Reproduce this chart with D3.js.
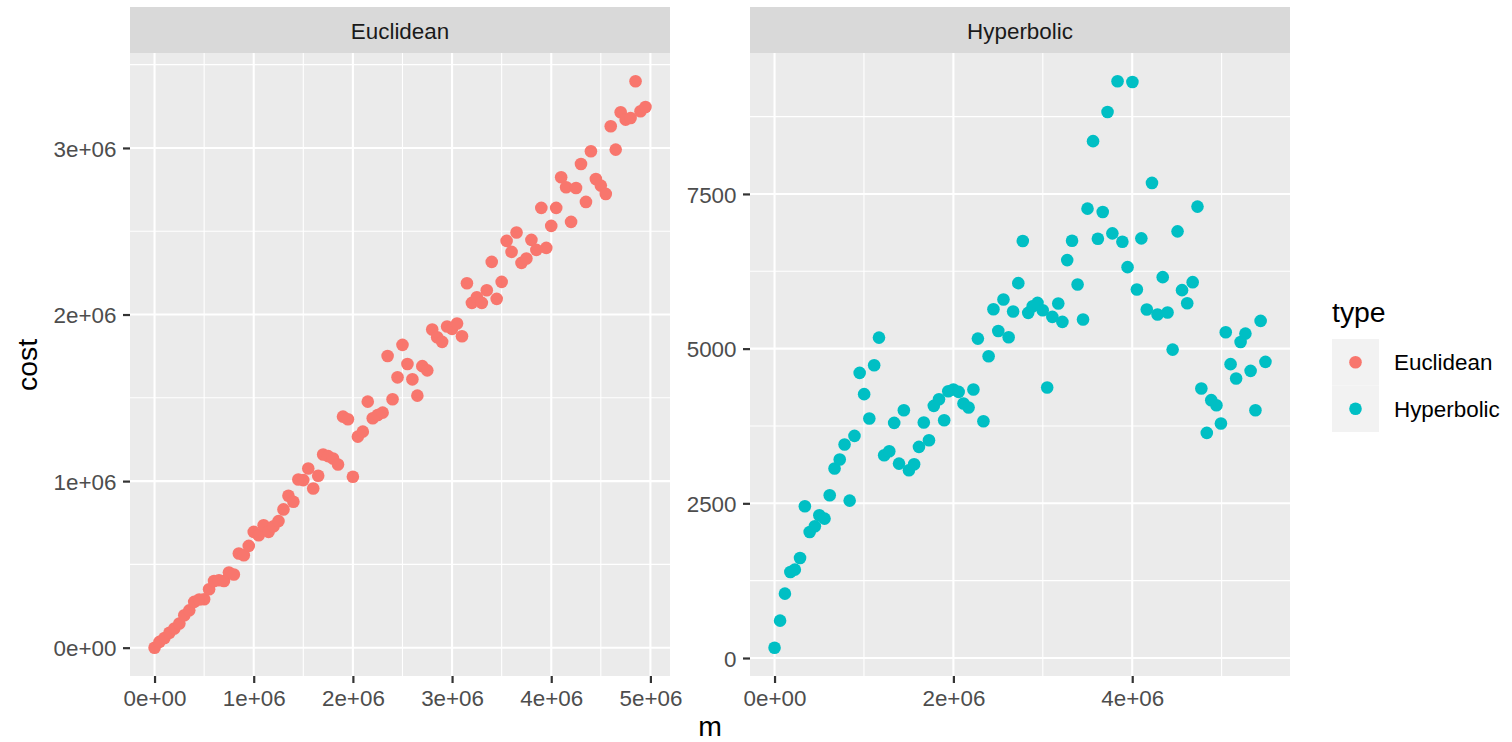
<!DOCTYPE html>
<html>
<head>
<meta charset="utf-8">
<script src="https://cdn.jsdelivr.net/npm/d3@7"></script>
<style>
  body { margin: 0; background: #fff; }
  svg { display: block; font-family: "Liberation Sans", Arial, sans-serif; }
</style>
</head>
<body>
<div id="chart"></div>
<script>
// facet labels and legend
var facets = ["Euclidean", "Hyperbolic"];
var colors = ["#F8766D", "#00BFC4"];

// Euclidean series (m, cost)
var eucM = [0, 50000, 100000, 150000, 200000, 250000, 300000, 350000, 400000, 450000,
  500000, 550000, 600000, 650000, 700000, 750000, 800000, 850000, 900000, 950000,
  1000000, 1050000, 1100000, 1150000, 1200000, 1250000, 1300000, 1350000, 1400000, 1450000,
  1500000, 1550000, 1600000, 1650000, 1700000, 1750000, 1800000, 1850000, 1900000, 1950000,
  2000000, 2050000, 2100000, 2150000, 2200000, 2250000, 2300000, 2350000, 2400000, 2450000,
  2500000, 2550000, 2600000, 2650000, 2700000, 2750000, 2800000, 2850000, 2900000, 2950000,
  3000000, 3050000, 3100000, 3150000, 3200000, 3250000, 3300000, 3350000, 3400000, 3450000,
  3500000, 3550000, 3600000, 3650000, 3700000, 3750000, 3800000, 3850000, 3900000, 3950000,
  4000000, 4050000, 4100000, 4150000, 4200000, 4250000, 4300000, 4350000, 4400000, 4450000,
  4500000, 4550000, 4600000, 4650000, 4700000, 4750000, 4800000, 4850000, 4900000, 4950000];
var eucCost = [0, 35000, 58000, 90000, 115000, 145000, 195000, 224000, 275000, 289000,
  291000, 351000, 400000, 405000, 400000, 451000, 439000, 565000, 555000, 611000,
  695000, 675000, 735000, 695000, 729000, 760000, 830000, 912000, 876000, 1010000,
  1006000, 1076000, 956000, 1032000, 1160000, 1150000, 1136000, 1100000, 1387000, 1371000,
  1026000, 1267000, 1297000, 1477000, 1377000, 1397000, 1411000, 1751000, 1491000, 1623000,
  1818000, 1703000, 1611000, 1513000, 1690000, 1665000, 1910000, 1864000, 1836000, 1928000,
  1914000, 1946000, 1870000, 2188000, 2070000, 2104000, 2070000, 2146000, 2316000, 2094000,
  2196000, 2442000, 2376000, 2492000, 2310000, 2336000, 2448000, 2388000, 2640000, 2400000,
  2532000, 2640000, 2824000, 2764000, 2556000, 2760000, 2904000, 2676000, 2980000, 2814000,
  2774000, 2724000, 3130000, 2990000, 3214000, 3170000, 3180000, 3400000, 3220000, 3246000];

// Hyperbolic series (m, cost)
var hypM = [0, 62000, 116000, 177000, 227000, 285000, 339000, 393000, 451000, 501000,
  559000, 617000, 671000, 729000, 783000, 840000, 894000, 952000, 1002000, 1060000,
  1114000, 1168000, 1226000, 1283000, 1338000, 1392000, 1446000, 1503000, 1561000, 1615000,
  1669000, 1727000, 1781000, 1839000, 1897000, 1943000, 2000000, 2059000, 2113000, 2170000,
  2224000, 2274000, 2336000, 2394000, 2448000, 2502000, 2560000, 2618000, 2668000, 2726000,
  2776000, 2837000, 2887000, 2941000, 2999000, 3049000, 3107000, 3173000, 3219000, 3273000,
  3327000, 3389000, 3450000, 3500000, 3562000, 3616000, 3670000, 3724000, 3778000, 3836000,
  3890000, 3948000, 4002000, 4052000, 4102000, 4163000, 4221000, 4283000, 4341000, 4395000,
  4452000, 4507000, 4557000, 4615000, 4676000, 4730000, 4773000, 4834000, 4884000, 4942000,
  4992000, 5046000, 5100000, 5162000, 5212000, 5266000, 5324000, 5378000, 5436000, 5490000];
var hypCost = [167, 604, 1040, 1391, 1428, 1617, 2452, 2037, 2129, 2307,
  2253, 2630, 3062, 3207, 3450, 2544, 3590, 4608, 4264, 3870,
  4732, 5178, 3277, 3342, 3800, 3142, 4005, 3035, 3132, 3412,
  3805, 3520, 4075, 4183, 3843, 4312, 4339, 4301, 4113, 4048,
  4339, 5162, 3827, 4876, 5637, 5286, 5794, 5183, 5599, 6058,
  6739, 5578, 5686, 5740, 5621, 4371, 5513, 5729, 5432, 6431,
  6744, 6037, 5470, 7262, 8353, 6776, 7208, 8823, 6863, 9320,
  6728, 6317, 9309, 5956, 6782, 5632, 7678, 5551, 6155, 5583,
  4984, 6895, 5945, 5734, 6074, 7295, 4355, 3638, 4167, 4086,
  3789, 5264, 4749, 4517, 5108, 5243, 4641, 4005, 5448, 4786];

// ticks
var eucXTicks = [0, 1000000, 2000000, 3000000, 4000000, 5000000];
var eucXLabels = ["0e+00", "1e+06", "2e+06", "3e+06", "4e+06", "5e+06"];
var eucYTicks = [0, 1000000, 2000000, 3000000];
var eucYLabels = ["0e+00", "1e+06", "2e+06", "3e+06"];
var hypXTicks = [0, 2000000, 4000000];
var hypXLabels = ["0e+00", "2e+06", "4e+06"];
var hypYTicks = [0, 2500, 5000, 7500];
var hypYLabels = ["0", "2500", "5000", "7500"];

var width = 1512, height = 742;
var panelTop = 53, panelBottom = 676;
var smallFont = 22.4, bigFont = 28.4;

var svg = d3.select("#chart").append("svg")
  .attr("width", width)
  .attr("height", height);

svg.append("rect").attr("width", width).attr("height", height).attr("fill", "#fff");

function expand(vals) {
  var lo = d3.min(vals), hi = d3.max(vals);
  var pad = (hi - lo) * 0.05;
  return [lo - pad, hi + pad];
}

// one facet panel
function drawPanel(p) {
  var x = d3.scaleLinear().domain(expand(p.xs)).range([p.left, p.right]);
  var y = d3.scaleLinear().domain(expand(p.ys)).range([panelBottom, panelTop]);
  var g = svg.append("g");

  // strip
  g.append("rect")
    .attr("x", p.left).attr("y", 7)
    .attr("width", p.right - p.left).attr("height", panelTop - 7)
    .attr("fill", "#D9D9D9");
  g.append("text")
    .attr("x", (p.left + p.right) / 2).attr("y", 38.5)
    .attr("text-anchor", "middle")
    .attr("font-size", smallFont)
    .attr("fill", "#1A1A1A")
    .text(p.name);

  // panel background
  g.append("rect")
    .attr("x", p.left).attr("y", panelTop)
    .attr("width", p.right - p.left).attr("height", panelBottom - panelTop)
    .attr("fill", "#EBEBEB");

  var xd = x.domain(), yd = y.domain();
  var xMinor = p.xMinor.filter(function(v) { return v > xd[0] && v < xd[1]; });
  var yMinor = p.yMinor.filter(function(v) { return v > yd[0] && v < yd[1]; });

  g.selectAll(".xminor").data(xMinor).enter().append("line")
    .attr("x1", d => x(d)).attr("x2", d => x(d))
    .attr("y1", panelTop).attr("y2", panelBottom)
    .attr("stroke", "#fff").attr("stroke-width", 1.1);
  g.selectAll(".yminor").data(yMinor).enter().append("line")
    .attr("y1", d => y(d)).attr("y2", d => y(d))
    .attr("x1", p.left).attr("x2", p.right)
    .attr("stroke", "#fff").attr("stroke-width", 1.1);
  g.selectAll(".xmajor").data(p.xTicks).enter().append("line")
    .attr("x1", d => x(d)).attr("x2", d => x(d))
    .attr("y1", panelTop).attr("y2", panelBottom)
    .attr("stroke", "#fff").attr("stroke-width", 2.1);
  g.selectAll(".ymajor").data(p.yTicks).enter().append("line")
    .attr("y1", d => y(d)).attr("y2", d => y(d))
    .attr("x1", p.left).attr("x2", p.right)
    .attr("stroke", "#fff").attr("stroke-width", 2.1);

  // points
  g.selectAll("circle").data(p.xs).enter().append("circle")
    .attr("cx", d => x(d))
    .attr("cy", (d, i) => y(p.ys[i]))
    .attr("r", 6.3)
    .attr("fill", p.color);

  // axes
  var ax = g.append("g").attr("transform", "translate(0," + panelBottom + ")")
    .call(d3.axisBottom(x).tickValues(p.xTicks)
      .tickFormat((d, i) => p.xLabels[i]).tickSize(7).tickPadding(6.9));
  var ay = g.append("g").attr("transform", "translate(" + p.left + ",0)")
    .call(d3.axisLeft(y).tickValues(p.yTicks)
      .tickFormat((d, i) => p.yLabels[i]).tickSize(7).tickPadding(6.5));
  [ax, ay].forEach(function(a) {
    a.select(".domain").remove();
    a.selectAll(".tick line").attr("stroke", "#333333").attr("stroke-width", 2.2);
    a.selectAll(".tick text")
      .attr("fill", "#4D4D4D")
      .attr("font-size", smallFont)
      .attr("font-family", "Liberation Sans, Arial, sans-serif");
  });
  ay.selectAll(".tick text").attr("dy", "0.36em");
}

drawPanel({
  name: facets[0], color: colors[0], left: 130, right: 670,
  xs: eucM, ys: eucCost,
  xTicks: eucXTicks, xLabels: eucXLabels, yTicks: eucYTicks, yLabels: eucYLabels,
  xMinor: [500000, 1500000, 2500000, 3500000, 4500000],
  yMinor: [500000, 1500000, 2500000, 3500000]
});
drawPanel({
  name: facets[1], color: colors[1], left: 750, right: 1290,
  xs: hypM, ys: hypCost,
  xTicks: hypXTicks, xLabels: hypXLabels, yTicks: hypYTicks, yLabels: hypYLabels,
  xMinor: [1000000, 3000000, 5000000],
  yMinor: [1250, 3750, 6250, 8750]
});

// axis titles
svg.append("text")
  .attr("x", 710).attr("y", 736)
  .attr("text-anchor", "middle")
  .attr("font-size", bigFont)
  .attr("fill", "#000")
  .text("m");
svg.append("text")
  .attr("transform", "translate(37,365) rotate(-90)")
  .attr("text-anchor", "middle")
  .attr("font-size", bigFont)
  .attr("fill", "#000")
  .text("cost");

// legend
var leg = svg.append("g");
leg.append("text")
  .attr("x", 1332).attr("y", 322)
  .attr("font-size", bigFont)
  .attr("fill", "#000")
  .text("type");
facets.forEach(function(f, i) {
  var ky = 339 + i * 46.5;
  leg.append("rect")
    .attr("x", 1332).attr("y", ky)
    .attr("width", 47).attr("height", 46.5)
    .attr("fill", "#F2F2F2");
  leg.append("circle")
    .attr("cx", 1355.5).attr("cy", ky + 23.25)
    .attr("r", 6.3)
    .attr("fill", colors[i]);
  leg.append("text")
    .attr("x", 1394).attr("y", ky + 23.25 + 8)
    .attr("font-size", smallFont)
    .attr("fill", "#000")
    .text(f);
});
</script>
</body>
</html>
